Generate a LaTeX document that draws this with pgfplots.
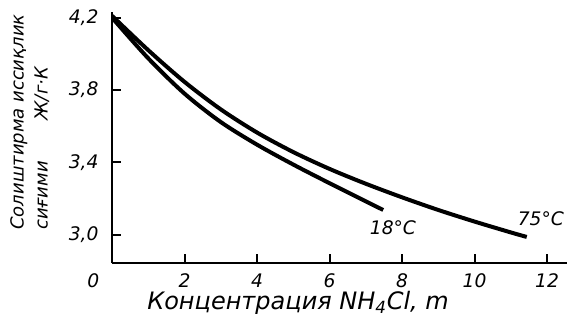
\documentclass[border=0pt]{standalone}
\usepackage{fontspec}
\setmainfont{DejaVu Sans}
\usepackage{pgfplots}
\pgfplotsset{compat=1.18}
\begin{document}
\begin{tikzpicture}
\begin{axis}[
  scale only axis, width=341.25pt, height=188.25pt,
  xmin=0, xmax=12.55, ymin=2.844, ymax=4.231,
  axis x line=bottom, axis y line=left,
  axis line style={-, line width=1.5pt},
  tick align=inside, major tick length=7pt,
  tick style={line width=1.5pt, black},
  xtick={0,2,4,6,8,10,12},
  xticklabels={\llap{0\hspace{9.5pt}},2,4,6,8,10,12},
  ytick={3.0,3.4,3.8,4.2},
  /pgf/number format/assume math mode=true,
  yticklabel style={/pgf/number format/fixed, /pgf/number format/fixed zerofill, /pgf/number format/precision=1, /pgf/number format/use comma, xshift=-6.6pt},
  ticklabel style={font=\fontsize{14}{16}\selectfont\itshape},
  xticklabel style={yshift=-4.5pt},
]
% 75 C
\addplot[black, line width=3pt, smooth] coordinates {
 (0,4.21) (1,4.02) (2,3.845) (3,3.693) (4,3.565) (5,3.457)
 (6,3.364) (7,3.282) (8,3.207) (9,3.137) (10,3.073) (11,3.013) (11.44,2.988)
};
% 18 C
\addplot[black, line width=3pt, smooth] coordinates {
 (0,4.20) (1,3.975) (2,3.78) (3,3.623) (4,3.498) (5,3.388)
 (6,3.285) (7,3.185) (7.48,3.137)
};
\node[font=\fontsize{14}{16}\selectfont\itshape] at (axis cs:7.75,3.04) {18°C};
\node[font=\fontsize{14}{16}\selectfont\itshape] at (axis cs:11.83,3.09) {75°C};
\end{axis}
\node[rotate=90, anchor=north west, align=left, inner sep=0pt,
      font=\fontsize{13.5}{18}\selectfont\itshape]
  at ([xshift=-76.5pt, yshift=24.75pt]current axis.south west)
  {Солиштирма иссиқлик\\\makebox[82pt][l]{сиғими}Ж/г·К};
\node[anchor=base west, inner sep=0pt, font=\fontsize{18}{20}\selectfont\itshape]
  at ([xshift=26.25pt, yshift=-34.5pt]current axis.south west)
  {Концентрация NH\textsubscript{4}Cl, m};
\pgfresetboundingbox
\path ([xshift=-84pt,yshift=-47.25pt]current axis.south west) rectangle ([yshift=9pt]current axis.north east);
\end{tikzpicture}
\end{document}
